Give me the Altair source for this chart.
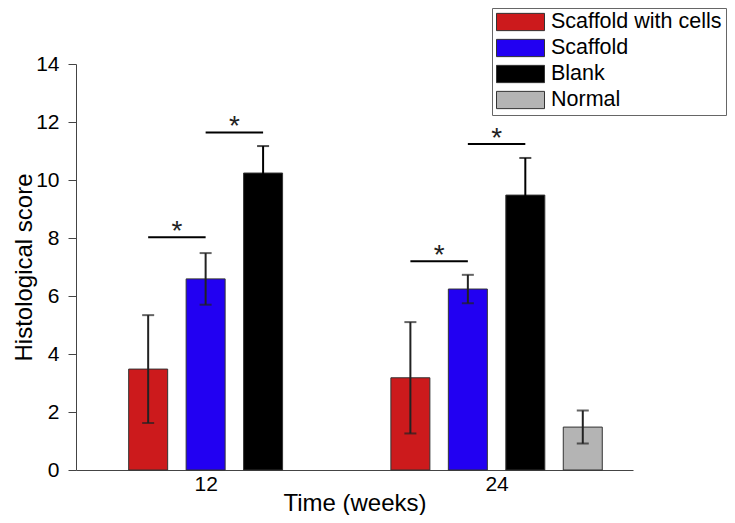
import altair as alt
import pandas as pd

# ---- data ----
series = ["Scaffold with cells", "Scaffold", "Blank", "Normal"]
colors = ["#CC1A1C", "#2200F2", "#000000", "#B4B4B4"]
times = [12, 24]
series_12 = ["Scaffold with cells", "Scaffold", "Blank"]
values_12 = [3.48, 6.59, 10.24]
err_12 = [1.86, 0.89, 0.93]
series_24 = ["Scaffold with cells", "Scaffold", "Blank", "Normal"]
values_24 = [3.18, 6.24, 9.48, 1.48]
err_24 = [1.92, 0.49, 1.28, 0.57]
# significance brackets: time, from series, to series, level
sig_time = [12, 12, 24, 24]
sig_from = ["Scaffold with cells", "Scaffold", "Scaffold with cells", "Scaffold"]
sig_to = ["Scaffold", "Blank", "Scaffold", "Blank"]
sig_level = [8.03, 11.64, 7.2, 11.24]

SPACING = 2.37  # slot spacing in weeks

rows = []
for t, ss, vv, ee in [(12, series_12, values_12, err_12), (24, series_24, values_24, err_24)]:
    n = len(ss)
    for i, (s, v, e) in enumerate(zip(ss, vv, ee)):
        rows.append({"time": t, "series": s, "value": v, "err": e,
                     "xpos": t + (i - (n - 1) / 2) * SPACING,
                     "lo": v - e, "hi": v + e})
df = pd.DataFrame(rows)

pos = {(r.time, r.series): r.xpos for r in df.itertuples()}
sig = pd.DataFrame({
    "x1": [pos[(t, a)] for t, a in zip(sig_time, sig_from)],
    "x2": [pos[(t, b)] for t, b in zip(sig_time, sig_to)],
    "y": sig_level,
})
sig["xm"] = (sig["x1"] + sig["x2"]) / 2
sig["star"] = "*"

FONT = "Liberation Sans"
xscale = alt.Scale(domain=[6.86, 29.42], nice=False, zero=False)
yscale = alt.Scale(domain=[0, 14], nice=False)

base = alt.Chart(df)

bars = base.mark_bar(size=39, stroke="#333333", strokeWidth=1).encode(
    x=alt.X("xpos:Q", scale=xscale,
            axis=alt.Axis(values=times, format="d", ticks=False, grid=False,
                          title="Time (weeks)", labelFontSize=21, titleFontSize=24,
                          labelFont=FONT, titleFont=FONT, labelColor="black",
                          titleColor="black", titleFontWeight="normal",
                          domainColor="#444444", labelPadding=3, titlePadding=-3)),
    y=alt.Y("value:Q", scale=yscale,
            axis=alt.Axis(values=list(range(0, 15)), grid=False,
                          labelExpr="datum.value % 2 === 0 ? datum.label : ''",
                          tickSize={"condition": {"test": "datum.value % 2 === 0", "value": 8}, "value": 4},
                          tickColor="#444444", domainColor="#444444",
                          title="Histological score", labelFontSize=21, titleFontSize=24,
                          labelFont=FONT, titleFont=FONT, labelColor="black",
                          titleColor="black", titleFontWeight="normal",
                          labelPadding=9, titlePadding=-1)),
    fill=alt.Fill("series:N", scale=alt.Scale(domain=series, range=colors),
                  legend=alt.Legend(title=None, orient="none", legendX=416, legendY=-56,
                                    symbolType="M-1,-0.36L1,-0.36L1,0.36L-1,0.36Z",
                                    symbolSize=2304, symbolStrokeColor="#333333",
                                    symbolStrokeWidth=1, labelFontSize=21.5, labelFont=FONT,
                                    labelColor="black", labelLimit=300,
                                    strokeColor="#666666", fillColor="white",
                                    padding=4, rowPadding=4, clipHeight=20, labelOffset=6)),
)

err_color = alt.condition("datum.series === 'Blank'", alt.value("#000000"), alt.value("#222222"))

err_rule = base.mark_rule(strokeWidth=2).encode(
    x="xpos:Q", y="lo:Q", y2="hi:Q", color=err_color,
)
cap_hi = base.mark_tick(orient="horizontal", size=12, thickness=2).encode(
    x="xpos:Q", y="hi:Q", color=err_color,
)
cap_lo = base.mark_tick(orient="horizontal", size=12, thickness=2).encode(
    x="xpos:Q", y="lo:Q", color=err_color,
)

sig_base = alt.Chart(sig)
sig_lines = sig_base.mark_rule(color="black", strokeWidth=2).encode(
    x="x1:Q", x2="x2:Q", y="y:Q",
)
stars = sig_base.mark_text(fontSize=28, font=FONT, color="#222222", baseline="alphabetic", dy=3).encode(
    x="xm:Q", y="y:Q", text="star:N",
)

chart = alt.layer(bars, err_rule, cap_hi, cap_lo, sig_lines, stars).properties(
    width=557, height=406,
    autosize=alt.AutoSizeParams(type="none"),
    padding={"left": 68, "top": 56, "right": 94, "bottom": 45},
    background="white",
).configure_view(stroke=None)

chart.save("out.html", embed_options={"renderer": "svg", "actions": False})
